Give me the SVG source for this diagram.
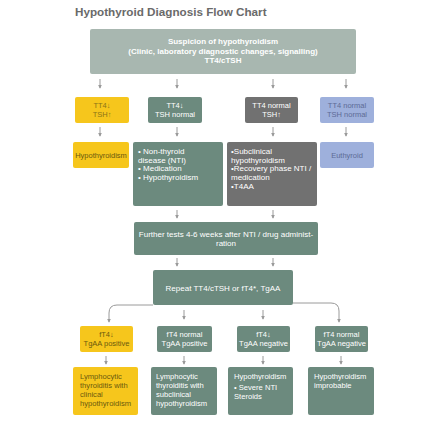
<svg xmlns="http://www.w3.org/2000/svg" width="447" height="422" viewBox="0 0 447 422">
<defs>
<marker id="ah" viewBox="0 0 6 6" refX="5" refY="3" markerWidth="4" markerHeight="4" markerUnits="userSpaceOnUse" orient="auto">
<path d="M0,0 L6,3 L0,6 z" fill="#9a9a9a"/>
</marker>
<style>
text{font-family:"Liberation Sans","Noto Sans",Arial,sans-serif;}
.t{font-size:7.5px;fill:#ffffff;}
.tb{font-size:8px;fill:#ffffff;font-weight:bold;}
.ty{font-size:7.5px;fill:#6b5a0e;}
.tbl{font-size:7.5px;fill:#5d6b96;}
.c{text-anchor:middle;}
.big{font-size:7.6px;}
.m{font-size:8px;}
.yel{fill:#F6C61C;}
.grn{fill:#6C8A7E;}
.gry{fill:#717171;}
.blu{fill:#9EB0DC;}
.top{fill:#A8B7B0;}
.con line,.con path{stroke:#9a9a9a;stroke-width:1;fill:none;marker-end:url(#ah);}
</style>
</defs>
<rect width="447" height="422" fill="#ffffff"/>
<text x="75" y="16" style="font-size:11.7px;fill:#6a6a6a;font-weight:600">Hypothyroid Diagnosis Flow Chart</text>

<g id="n-start">
<rect x="90" y="29" width="266" height="45" rx="2" class="top"/>
<text x="223" y="44" class="tb c">Suspicion of hypothyroidism</text>
<text x="223" y="53.5" class="tb c">(Clinic, laboratory diagnostic changes, signalling)</text>
<text x="223" y="63" class="tb c">TT4/cTSH</text>
</g>

<g id="n-r2a">
<rect x="75" y="97" width="54" height="26" rx="2" class="yel"/>
<text x="102" y="108" class="ty c" style="fill:#8a7418">TT4↓</text>
<text x="102" y="117" class="ty c" style="fill:#8a7418">TSH↑</text>
</g>
<g id="n-r2b">
<rect x="148" y="97" width="54" height="26" rx="2" class="grn"/>
<text x="175" y="108" class="t c">TT4↓</text>
<text x="175" y="117" class="t c">TSH normal</text>
</g>
<g id="n-r2c">
<rect x="245" y="97" width="53" height="26" rx="2" class="gry"/>
<text x="271.5" y="108" class="t c">TT4 normal</text>
<text x="271.5" y="117" class="t c">TSH↑</text>
</g>
<g id="n-r2d">
<rect x="320" y="97" width="54" height="26" rx="2" class="blu"/>
<text x="347" y="108" class="tbl c">TT4 normal</text>
<text x="347" y="117" class="tbl c">TSH normal</text>
</g>

<g id="n-r3a">
<rect x="73" y="142" width="56" height="26" rx="2" class="yel"/>
<text x="101" y="157.5" class="ty c">Hypothyroidism</text>
</g>
<g id="n-r3b">
<rect x="133" y="142" width="90" height="64" rx="2" class="grn"/>
<text x="138" y="154" class="t m">• Non-thyroid</text>
<text x="138" y="162.7" class="t m">disease (NTI)</text>
<text x="138" y="171.4" class="t m">• Medication</text>
<text x="138" y="180.1" class="t m">• Hypothyroidism</text>
</g>
<g id="n-r3c">
<rect x="227" y="142" width="90" height="64" rx="2" class="gry"/>
<text x="231" y="154" class="t m">•Subclinical</text>
<text x="231" y="162.7" class="t m">hypothyroidism</text>
<text x="231" y="171.4" class="t m">•Recovery phase NTI /</text>
<text x="231" y="180.1" class="t m">medication</text>
<text x="231" y="188.8" class="t m">•T4AA</text>
</g>
<g id="n-r3d">
<rect x="320" y="142" width="54" height="26" rx="2" class="blu"/>
<text x="347" y="157.5" class="tbl c">Euthyroid</text>
</g>

<g id="n-further">
<rect x="134" y="222" width="184" height="33" rx="2" class="grn"/>
<text x="226" y="237" class="t c m">Further tests 4-6 weeks after NTI / drug administ-</text>
<text x="226" y="245.5" class="t c m">ration</text>
</g>

<g id="n-repeat">
<rect x="153" y="270" width="140" height="35" rx="2" class="grn"/>
<text x="223" y="290.5" class="t c m">Repeat TT4/cTSH or fT4*, TgAA</text>
</g>

<g id="n-r4a">
<rect x="80" y="326" width="53" height="26" rx="2" class="yel"/>
<text x="106.5" y="337" class="ty c">fT4↓</text>
<text x="106.5" y="346" class="ty c">TgAA positive</text>
</g>
<g id="n-r4b">
<rect x="157" y="326" width="55" height="26" rx="2" class="grn"/>
<text x="184.5" y="337" class="t c">fT4 normal</text>
<text x="184.5" y="346" class="t c">TgAA positive</text>
</g>
<g id="n-r4c">
<rect x="237" y="326" width="53" height="26" rx="2" class="grn"/>
<text x="263.5" y="337" class="t c">fT4↓</text>
<text x="263.5" y="346" class="t c">TgAA negative</text>
</g>
<g id="n-r4d">
<rect x="315" y="326" width="53" height="26" rx="2" class="grn"/>
<text x="341.5" y="337" class="t c">fT4 normal</text>
<text x="341.5" y="346" class="t c">TgAA negative</text>
</g>

<g id="n-r5a">
<rect x="73" y="367" width="65" height="48" rx="2" class="yel"/>
<text x="80" y="379" class="ty big">Lymphocytic</text>
<text x="80" y="388" class="ty big">thyroiditis with</text>
<text x="80" y="397" class="ty big">clinical</text>
<text x="80" y="406" class="ty big">hypothyroidism</text>
</g>
<g id="n-r5b">
<rect x="151" y="367" width="66" height="48" rx="2" class="grn"/>
<text x="156" y="379" class="t big">Lymphocytic</text>
<text x="156" y="388" class="t big">thyroiditis with</text>
<text x="156" y="397" class="t big">subclinical</text>
<text x="156" y="406" class="t big">hypothyroidism</text>
</g>
<g id="n-r5c">
<rect x="228" y="367" width="65" height="48" rx="2" class="grn"/>
<text x="234" y="379" class="t big">Hypothyroidism</text>
<text x="234" y="390" class="t big">• Severe NTI</text>
<text x="234" y="399" class="t big">Steroids</text>
</g>
<g id="n-r5d">
<rect x="308" y="367" width="66" height="48" rx="2" class="grn"/>
<text x="314" y="379" class="t big">Hypothyroidism</text>
<text x="314" y="388" class="t big">improbable</text>
</g>

<g id="connectors" class="con">
<line x1="100" y1="79" x2="100" y2="88"/>
<line x1="177" y1="79" x2="177" y2="88"/>
<line x1="273" y1="79" x2="273" y2="88"/>
<line x1="346" y1="79" x2="346" y2="88"/>
<line x1="100" y1="127" x2="100" y2="136"/>
<line x1="177" y1="127" x2="177" y2="136"/>
<line x1="273" y1="127" x2="273" y2="136"/>
<line x1="346" y1="127" x2="346" y2="136"/>
<line x1="177" y1="210" x2="177" y2="218"/>
<line x1="273" y1="210" x2="273" y2="218"/>
<line x1="177" y1="258" x2="177" y2="266"/>
<line x1="273" y1="258" x2="273" y2="266"/>
<line x1="184" y1="310" x2="184" y2="319"/>
<line x1="263" y1="310" x2="263" y2="319"/>
<path d="M153,305 H117 Q109,305 109,313 V322"/>
<path d="M293,303 H331 Q339,303 339,311 V322"/>
<line x1="106" y1="356" x2="106" y2="364"/>
<line x1="184" y1="356" x2="184" y2="364"/>
<line x1="263" y1="356" x2="263" y2="364"/>
<line x1="341" y1="356" x2="341" y2="364"/>
</g>
</svg>
